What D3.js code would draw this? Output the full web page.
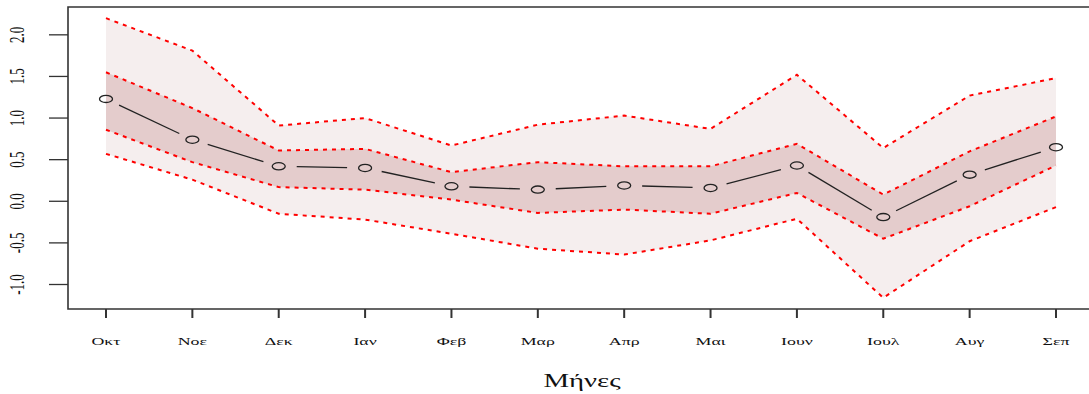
<!DOCTYPE html>
<html>
<head>
<meta charset="utf-8">
<script src="https://cdn.jsdelivr.net/npm/d3@7"></script>
<style>
  html, body { margin: 0; padding: 0; background: #ffffff; }
  svg { display: block; }
  text { font-family: "Liberation Serif", "DejaVu Serif", serif; fill: #111; }
</style>
</head>
<body>
<svg id="chart" width="1089" height="394"></svg>
<script>
// Monthly estimate with two confidence bands (Οκτ – Σεπ)
const months = ["Οκτ", "Νοε", "Δεκ", "Ιαν", "Φεβ", "Μαρ", "Απρ", "Μαι", "Ιουν", "Ιουλ", "Αυγ", "Σεπ"];
const estimate   = [1.23, 0.74, 0.42, 0.40, 0.18, 0.14, 0.19, 0.16, 0.43, -0.19, 0.32, 0.65];
const innerUpper = [1.55, 1.12, 0.61, 0.63, 0.35, 0.47, 0.42, 0.42, 0.69, 0.08, 0.60, 1.02];
const innerLower = [0.86, 0.47, 0.17, 0.14, 0.02, -0.14, -0.10, -0.15, 0.10, -0.45, -0.06, 0.43];
const outerUpper = [2.20, 1.81, 0.91, 1.00, 0.67, 0.92, 1.03, 0.87, 1.52, 0.64, 1.27, 1.48];
const outerLower = [0.57, 0.26, -0.15, -0.22, -0.39, -0.57, -0.64, -0.47, -0.21, -1.16, -0.48, -0.07];
const yTicks = [-1.0, -0.5, 0.0, 0.5, 1.0, 1.5, 2.0];
const xTitle = "Μήνες";

const svg = d3.select("#chart");
const box = { left: 68, top: 7, bottom: 309, right: 1094 };
const stretch = 2;            // horizontal aspect of the drawing device

// R-style 4% padding around the data range
const idx = months.map((_, i) => i + 1);
const xPad = (idx.length - 1) * 0.04;
const x = d3.scaleLinear().domain([1 - xPad, idx.length + xPad]).range([box.left, box.right]);
const yMin = d3.min(outerLower), yMax = d3.max(outerUpper);
const yPad = (yMax - yMin) * 0.04;
const y = d3.scaleLinear().domain([yMin - yPad, yMax + yPad]).range([box.bottom, box.top]);

const rows = idx.map((k, i) => ({
  k, est: estimate[i], iu: innerUpper[i], il: innerLower[i], ou: outerUpper[i], ol: outerLower[i]
}));

// bands
const area = (lo, hi) => d3.area().x(d => x(d.k)).y0(d => y(d[lo])).y1(d => y(d[hi]));
svg.append("path").attr("d", area("ol", "ou")(rows)).attr("fill", "#f5eeee");
svg.append("path").attr("d", area("il", "iu")(rows)).attr("fill", "#e4cccc");

// dotted band limits
const line = key => d3.line().x(d => x(d.k)).y(d => y(d[key]));
["ou", "iu", "il", "ol"].forEach(key => {
  svg.append("path").attr("d", line(key)(rows))
    .attr("fill", "none").attr("stroke", "#ff0000")
    .attr("stroke-width", 2).attr("stroke-dasharray", "4,5");
});

// estimate: line segments broken around the open circles
const gap = 9;
for (let i = 0; i < rows.length - 1; i++) {
  const x0 = x(rows[i].k), y0 = y(rows[i].est);
  const x1 = x(rows[i + 1].k), y1 = y(rows[i + 1].est);
  const dx = (x1 - x0) / stretch, dy = y1 - y0;
  const len = Math.hypot(dx, dy);
  if (len <= 2 * gap) continue;
  const ux = dx / len, uy = dy / len;
  svg.append("line")
    .attr("x1", x0 + ux * gap * stretch).attr("y1", y0 + uy * gap)
    .attr("x2", x1 - ux * gap * stretch).attr("y2", y1 - uy * gap)
    .attr("stroke", "#222").attr("stroke-width", 1.3);
}
svg.selectAll("ellipse.pt").data(rows).join("ellipse")
  .attr("class", "pt")
  .attr("cx", d => x(d.k)).attr("cy", d => y(d.est))
  .attr("rx", 6.5).attr("ry", 3.6)
  .attr("fill", "none").attr("stroke", "#222").attr("stroke-width", 1.3);

// frame (right side falls outside the page)
svg.append("path")
  .attr("d", `M${box.right},${box.top}H${box.left}V${box.bottom}H${box.right}`)
  .attr("fill", "none").attr("stroke", "#333").attr("stroke-width", 1.6);

// y axis
const yAxis = svg.append("g");
yAxis.selectAll("line").data(yTicks).join("line")
  .attr("x1", 49).attr("x2", box.left)
  .attr("y1", d => y(d)).attr("y2", d => y(d))
  .attr("stroke", "#333").attr("stroke-width", 1.3);
yAxis.selectAll("text").data(yTicks).join("text")
  .attr("transform", d => `translate(24,${y(d)}) scale(1.55,1) rotate(-90)`)
  .attr("text-anchor", "middle")
  .attr("font-size", 13)
  .text(d => d.toFixed(1));

// x axis
const xAxis = svg.append("g");
xAxis.selectAll("line").data(rows).join("line")
  .attr("x1", d => x(d.k)).attr("x2", d => x(d.k))
  .attr("y1", box.bottom).attr("y2", 318)
  .attr("stroke", "#333").attr("stroke-width", 2);
xAxis.selectAll("text").data(rows).join("text")
  .attr("transform", d => `translate(${x(d.k)},345) scale(1.7,1)`)
  .attr("text-anchor", "middle")
  .attr("font-size", 10.5)
  .attr("fill", "#222")
  .text((d, i) => months[i]);

svg.append("text")
  .attr("transform", `translate(${(box.left + box.right) / 2 + 1},387) scale(1.6,1)`)
  .attr("text-anchor", "middle")
  .attr("font-size", 18)
  .text(xTitle);
</script>
</body>
</html>
